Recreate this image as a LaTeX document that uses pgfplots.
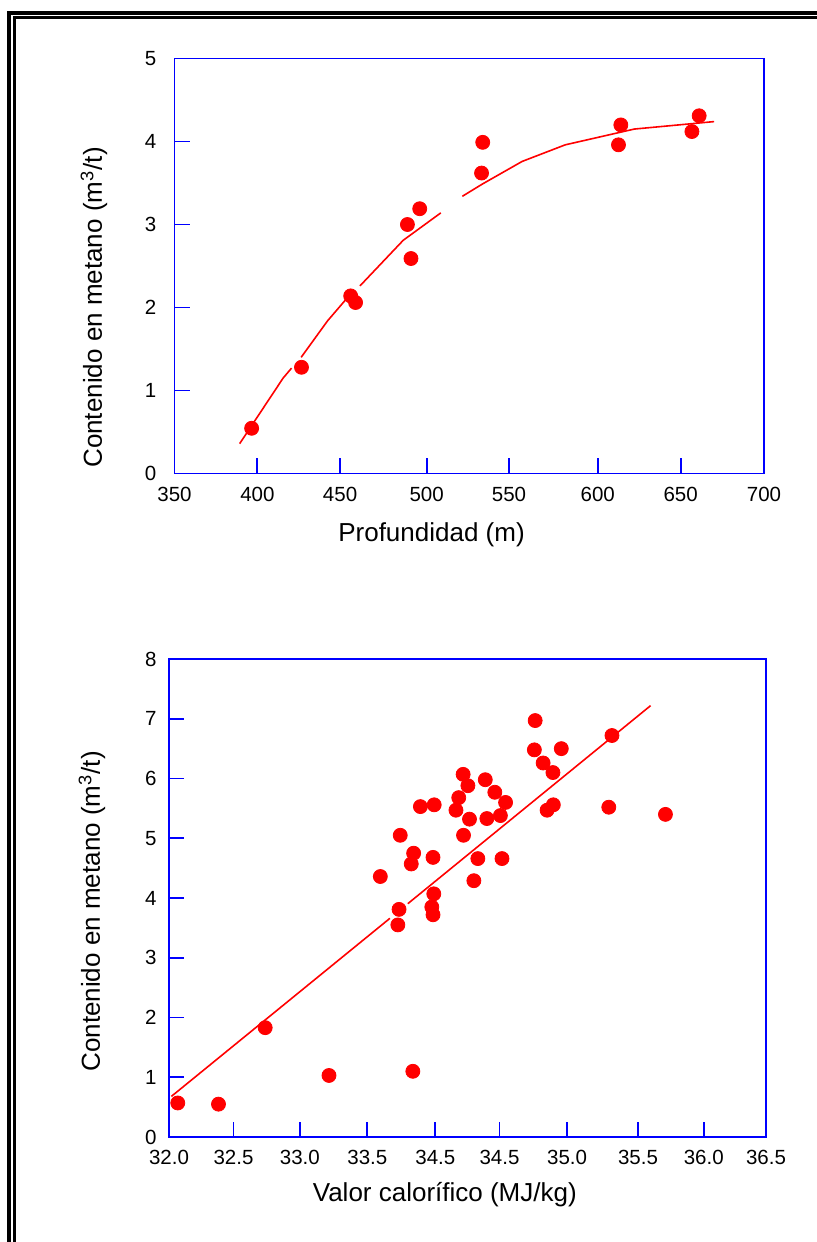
\documentclass[border=0pt]{standalone}
\usepackage{fontspec}
\setmainfont{Liberation Sans}
\usepackage{pgfplots}
\pgfplotsset{compat=1.18}
\definecolor{axblue}{RGB}{0,0,255}
\definecolor{ptred}{RGB}{255,0,0}

\pgfplotsset{myaxis/.style={
  scale only axis,
  axis line style={axblue, line width=0.9pt},
  tick style={axblue, line width=0.9pt},
  major tick length=7.6pt,
  tick align=inside,
  xtick pos=left, ytick pos=left,
  minor tick num=0,
  tick label style={font=\fontsize{10.25}{12}\selectfont},
  /pgf/number format/assume math mode=true,
  label style={font=\fontsize{13}{15}\selectfont},
  xticklabel style={yshift=-3.1pt},
  clip=false,
}}

\begin{document}
\begin{tikzpicture}
\useasboundingbox (0,0) rectangle (408.5pt,-621pt);

% ---------- top chart ----------
\begin{axis}[myaxis,
  at={(87.25pt,-236.75pt)}, anchor=south west,
  width=294.75pt, height=207.5pt,
  xmin=350, xmax=700, ymin=0, ymax=5,
  xtick={350,399.2,448.3,499.7,548.6,601.3,650.5,700},
  xticklabels={350,400,450,500,550,600,650,700},
  ytick={0,1,2,3,4,5},
  yticklabel style={xshift=-5.6pt},
  xlabel={Profundidad (m)},
  ylabel={Contenido en metano (m\textsuperscript{3}/t)},
  xlabel style={at={(axis description cs:0.436,-0.165)}, anchor=base},
  ylabel style={at={(axis description cs:-0.123,0.40)}, anchor=base},
]
\addplot[ptred, line width=0.8pt, mark=none] coordinates {(388.7,0.36) (414.5,1.15) (419.5,1.27)};
\addplot[ptred, line width=0.8pt, mark=none] coordinates {(425.2,1.40) (440.9,1.84) (452.3,2.11)};
\addplot[ptred, line width=0.8pt, mark=none] coordinates {(460.1,2.26) (485.8,2.81) (508.1,3.14)};
\addplot[ptred, line width=0.8pt, mark=none] coordinates {(520.9,3.34) (533.0,3.49) (556.4,3.76) (582.0,3.96) (623.0,4.15) (670.4,4.24)};
\addplot[only marks, mark=*, mark size=3.5pt, ptred, mark options={fill=ptred, draw=ptred}] coordinates {
(395.8,0.545) (425.4,1.28) (454.6,2.14) (457.5,2.06) (488.3,3.00) (495.6,3.19) (490.4,2.59)
(532.3,3.62) (533.0,3.99) (615.0,4.20) (613.6,3.96) (657.2,4.12) (661.5,4.31)};
\end{axis}

% ---------- bottom chart ----------
\begin{axis}[myaxis,
  at={(84.5pt,-568.5pt)}, anchor=south west,
  width=298.5pt, height=239pt,
  xmin=32, xmax=36.5, ymin=0, ymax=8,
  xtick={32,32.486,32.986,33.495,34.008,34.491,35.001,35.535,36.031,36.5},
  xticklabels={32.0,32.5,33.0,33.5,34.5,34.5,35.0,35.5,36.0,36.5},
  ytick={0,1,2,3,4,5,6,7,8},
  yticklabel style={xshift=-2.75pt},
  xlabel={Valor calorífico (MJ/kg)},
  ylabel={Contenido en metano (m\textsuperscript{3}/t)},
  xlabel style={at={(axis description cs:0.462,-0.135)}, anchor=base},
  ylabel style={at={(axis description cs:-0.1156,0.472)}, anchor=base},
]
\addplot[ptred, line width=0.8pt, mark=none] coordinates {(32.018,0.68) (33.665,3.66)};
\addplot[ptred, line width=0.8pt, mark=none] coordinates {(33.80,3.905) (35.63,7.22)};
\addplot[only marks, mark=*, mark size=3.5pt, ptred, mark options={fill=ptred, draw=ptred}] coordinates {
(32.066,0.57) (32.373,0.55) (32.725,1.83) (33.206,1.03) (33.838,1.10)
(33.593,4.36) (33.734,3.81) (33.725,3.55) (33.743,5.05) (33.844,4.75)
(33.826,4.57) (33.895,5.53) (33.999,5.56) (33.990,4.68) (33.996,4.07)
(33.981,3.85) (33.990,3.72) (34.163,5.47) (34.184,5.68) (34.217,6.07)
(34.253,5.88) (34.220,5.05) (34.265,5.32) (34.298,4.29) (34.328,4.66)
(34.384,5.98) (34.396,5.33) (34.456,5.77) (34.498,5.38) (34.537,5.60)
(34.510,4.66) (34.754,6.48) (34.760,6.97) (34.820,6.26) (34.894,6.10)
(34.850,5.47) (34.897,5.56) (34.957,6.50) (35.315,5.52) (35.339,6.72)
(35.742,5.40)};
\end{axis}

% ---------- double frame ----------
\draw[black, line width=1.9pt] (4.6pt,-6.5pt) rectangle (430pt,-640pt);
\draw[black, line width=1.25pt] (7.2pt,-8.75pt) rectangle (430pt,-640pt);
\end{tikzpicture}
\end{document}
